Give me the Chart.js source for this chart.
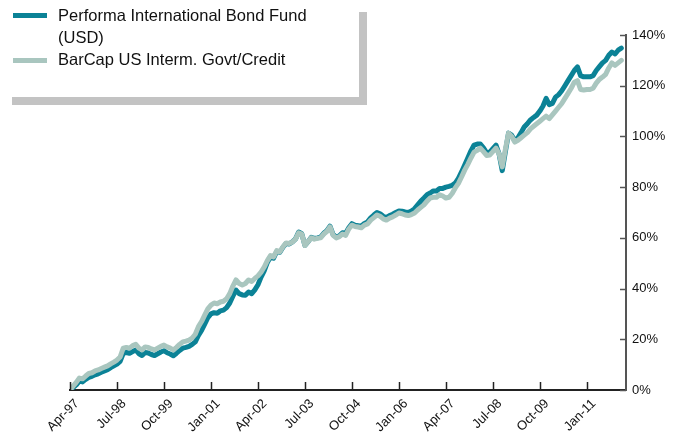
<!DOCTYPE html>
<html>
<head>
<meta charset="utf-8">
<script src="https://cdn.jsdelivr.net/npm/chart.js@4.4.1/dist/chart.umd.min.js"></script>
<style>
  body { margin: 0; background: #fff; font-family: "Liberation Sans", Arial, sans-serif; }
  #wrap { position: relative; width: 679px; height: 436px; }
  #legend { position: absolute; left: 12px; top: 12px; width: 347px; height: 85px;
            border-right: 8px solid #c3c3c3; border-bottom: 8px solid #c3c3c3; }
  .row { position: absolute; left: 46px; font-size: 16.5px; line-height: 22px; color: #111; white-space: nowrap; }
  .sw { position: absolute; left: 1px; width: 34px; height: 5px; }
</style>
</head>
<body>
<div id="wrap">
  <canvas id="chart" width="679" height="436"></canvas>
  <div id="legend">
    <div class="sw" style="top:1px;background:#0b8296"></div>
    <div class="row" style="top:-8px">Performa International Bond Fund<br>(USD)</div>
    <div class="sw" style="top:46px;background:#a9c6bf"></div>
    <div class="row" style="top:36px">BarCap US Interm. Govt/Credit</div>
  </div>
</div>
<script>
// Monthly cumulative returns (%), Apr-97 .. Dec-11
const seriesNames = ['Performa International Bond Fund (USD)', 'BarCap US Interm. Govt/Credit'];
const tickLabels = ['Apr-97', 'Jul-98', 'Oct-99', 'Jan-01', 'Apr-02', 'Jul-03', 'Oct-04',
                    'Jan-06', 'Apr-07', 'Jul-08', 'Oct-09', 'Jan-11'];
const yTicks = [0, 20, 40, 60, 80, 100, 120, 140];

const fund = [
  0, 1.0, 2.0, 3.5, 3.2, 4.2, 5.0, 5.4, 6.0,
  6.4, 7.0, 7.5, 8.0, 8.8, 9.5, 10.2, 11.3, 14.5, 14.8, 14.5, 15.2,
  15.8, 14.3, 13.6, 14.8, 14.6, 14.0, 13.6, 14.3, 15.0, 15.5, 14.7, 14.2,
  13.5, 14.5, 15.6, 16.5, 16.8, 17.2, 18.0, 19.0, 21.5, 23.5, 26.0, 28.5,
  30.0, 30.5, 30.3, 31.2, 31.5, 32.5, 34.3, 37.0, 39.4, 38.0, 37.5, 37.4,
  38.6, 38.0, 39.5, 41.5, 44.5, 47.0, 50.3, 52.5, 52.0, 54.6, 54.3, 56.3,
  57.8, 57.6, 58.4, 59.6, 62.3, 61.6, 57.0, 58.5, 60.2, 59.8, 60.0, 60.3,
  61.8, 62.8, 64.6, 61.3, 60.3, 60.8, 62.0, 61.8, 64.0, 65.6, 65.0, 64.8,
  64.6, 65.7, 66.3, 67.9, 69.0, 70.0, 69.5, 68.5, 68.0, 68.8, 69.3, 70.0,
  70.6, 70.5, 70.2, 70.0, 70.6, 71.5, 73.0, 74.5, 75.7, 77.0, 77.7, 78.5,
  78.5, 79.5, 79.5, 80.0, 80.3, 80.7, 81.6, 83.5, 86.0, 88.7, 91.5, 94.3,
  96.6, 97.0, 97.0, 95.5, 93.5, 93.8, 95.2, 96.6, 93.0, 86.5, 94.0, 101.3,
  100.5, 98.3, 99.5, 101.5, 103.7, 105.0, 106.5, 107.5, 108.4, 110.0, 112.0, 115.0,
  112.5, 113.0, 115.5, 116.5, 118.0, 120.0, 122.0, 124.0, 126.0, 127.4, 124.0, 123.5,
  123.5, 123.5, 124.0, 126.0, 127.5, 129.0, 130.0, 132.0, 133.3, 132.5, 134.0, 134.8
];
const index = [
  0, 1.5, 3.0, 4.7, 4.4, 5.5, 6.5, 6.8, 7.5,
  7.9, 8.5, 9.0, 9.5, 10.3, 11.0, 11.8, 13.0, 16.5, 16.8, 16.5, 17.5,
  18.0, 16.5, 15.8, 17.0, 16.8, 16.2, 15.8, 16.5, 17.2, 17.7, 17.0, 16.5,
  15.8, 16.8, 18.0, 19.0, 19.3, 19.7, 20.5, 22.0, 25.0, 27.0, 29.5, 32.0,
  33.5, 34.3, 34.0, 34.7, 35.0, 36.0, 38.0, 41.0, 43.4, 42.0, 41.4, 42.0,
  43.4, 42.8, 44.0, 45.0, 46.5, 48.5, 51.0, 53.0, 52.5, 55.0, 54.5, 56.5,
  58.0, 57.8, 58.4, 59.5, 62.0, 61.5, 57.0, 58.5, 60.0, 59.5, 59.8, 60.0,
  61.5, 62.5, 64.3, 61.0, 60.0, 60.5, 61.5, 61.0, 63.5, 65.0, 64.5, 64.3,
  64.0, 65.0, 65.5, 67.0, 68.0, 69.0, 68.5, 67.5, 67.0, 67.8, 68.3, 69.0,
  69.8, 69.5, 69.0, 68.8, 69.2, 69.8, 71.0, 72.0, 73.0, 74.5, 75.7, 76.0,
  76.0, 77.0, 76.5, 75.7, 76.0, 77.5, 79.7, 81.5, 84.0, 86.7, 89.0, 91.5,
  93.8, 94.5, 95.4, 94.0, 92.5, 92.7, 94.0, 95.4, 93.0, 88.0, 95.0, 101.3,
  100.0, 97.8, 98.5, 99.5, 100.5, 101.5, 103.0, 104.0, 105.0, 106.0, 107.0, 108.0,
  107.0, 108.5, 110.0, 111.5, 113.0, 115.0, 117.0, 119.0, 121.4, 122.0, 118.5, 118.3,
  118.5, 118.5, 119.0, 121.0, 122.5, 123.4, 124.5, 127.0, 129.0, 128.0, 129.0, 130.0
];

const toPoints = arr => arr.map((v, i) => ({ x: i, y: v }));

// small tick marks drawn inside the plot, like the original
const innerTicks = {
  id: 'innerTicks',
  afterDraw(chart) {
    const { ctx, chartArea, scales } = chart;
    ctx.save();
    ctx.lineWidth = 1.5;
    ctx.strokeStyle = '#222';
    scales.x.ticks.forEach(t => {
      const px = Math.round(scales.x.getPixelForValue(t.value)) + 0.5;
      ctx.beginPath();
      ctx.moveTo(px, chartArea.bottom);
      ctx.lineTo(px, chartArea.bottom - 8);
      ctx.stroke();
    });
    ctx.strokeStyle = '#555';
    yTicks.forEach(v => {
      const py = Math.round(scales.y.getPixelForValue(v)) + 0.5;
      ctx.beginPath();
      ctx.moveTo(chartArea.right, py);
      ctx.lineTo(chartArea.right - 6, py);
      ctx.stroke();
    });
    ctx.restore();
  }
};

new Chart(document.getElementById('chart'), {
  type: 'line',
  data: {
    datasets: [
      { label: seriesNames[0], data: toPoints(fund), borderColor: '#0b8296', borderWidth: 5, order: 1 },
      { label: seriesNames[1], data: toPoints(index), borderColor: '#a9c6bf', borderWidth: 5, order: 0 }
    ]
  },
  options: {
    responsive: false,
    animation: false,
    events: [],
    layout: { padding: { left: 70, top: 35, right: 0, bottom: 0 } },
    elements: {
      point: { radius: 0 },
      line: { tension: 0, borderJoinStyle: 'round', borderCapStyle: 'round', fill: false }
    },
    plugins: { legend: { display: false }, tooltip: { enabled: false } },
    scales: {
      x: {
        type: 'linear',
        min: 0,
        max: 177.5,
        grid: { display: false, drawTicks: false },
        border: { display: true, color: '#222', width: 2 },
        afterBuildTicks: s => { s.ticks = tickLabels.map((_, i) => ({ value: i * 15 })); },
        afterFit: s => { s.height = 46; },
        ticks: {
          autoSkip: false,
          minRotation: 45,
          maxRotation: 45,
          padding: 6,
          labelOffset: 7,
          color: '#111',
          font: { family: 'Liberation Sans, Arial', size: 13 },
          callback: v => tickLabels[Math.round(v / 15)]
        }
      },
      y: {
        position: 'right',
        min: 0,
        max: 140,
        grid: { display: false, drawTicks: false },
        border: { display: true, color: '#555', width: 2 },
        afterFit: s => { s.width = 53; },
        ticks: {
          stepSize: 20,
          padding: 6,
          color: '#111',
          font: { family: 'Liberation Sans, Arial', size: 13 },
          callback: v => v + '%'
        }
      }
    }
  },
  plugins: [innerTicks]
});
</script>
</body>
</html>
